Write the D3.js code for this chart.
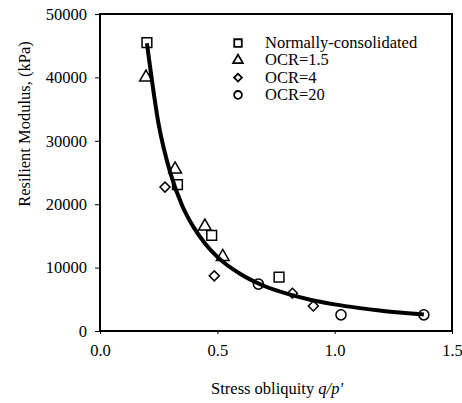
<!DOCTYPE html>
<html>
<head>
<meta charset="utf-8">
<script src="https://cdn.jsdelivr.net/npm/d3@7"></script>
<style>
  body { margin: 0; background: #fff; }
  text { font-family: "Liberation Serif", "Times New Roman", serif; fill: #000; }
</style>
</head>
<body>
<svg id="chart" width="462" height="403"></svg>
<script>
// data
var ncX = [0.20, 0.33, 0.476, 0.763]
var ncY = [45500, 23100, 15100, 8500]
var ocr15X = [0.196, 0.32, 0.447, 0.523]
var ocr15Y = [40000, 25500, 16500, 11700]
var ocr4X = [0.277, 0.487, 0.82, 0.909]
var ocr4Y = [22700, 8700, 5950, 3950]
var ocr20X = [0.675, 1.027, 1.38]
var ocr20Y = [7400, 2550, 2550]

// fitted curve, points
var fitX = [0.2, 0.25, 0.3, 0.35, 0.4, 0.45, 0.5, 0.6, 0.7, 0.8, 0.9, 1.0, 1.1, 1.2, 1.3, 1.38]
var fitY = [45400, 32600, 24900, 19800, 16300, 13700, 11700, 8950, 7100, 5850, 4900, 4200, 3650, 3200, 2850, 2600]

var xTicks = [0, 0.5, 1.0, 1.5]
var yTicks = [0, 10000, 20000, 30000, 40000, 50000]
var legendNames = ["Normally-consolidated", "OCR=1.5", "OCR=4", "OCR=20"]

var svg = d3.select("#chart")
var padding = {top: 14, right: 10, bottom: 72, left: 100}
var W = 462, H = 403
var fs = "16.5px"

var x = d3.scaleLinear().domain([0, 1.5]).range([padding.left, W - padding.right])
var y = d3.scaleLinear().domain([0, 50000]).range([H - padding.bottom, padding.top])

// frame
svg.append("rect")
    .attr("x", x(0)).attr("y", y(50000))
    .attr("width", x(1.5) - x(0)).attr("height", y(0) - y(50000))
    .attr("fill", "none").attr("stroke", "#000").attr("stroke-width", 2)

// axes
var yAxis = d3.axisLeft(y).tickValues(yTicks).tickSize(5).tickPadding(8).tickFormat(d3.format("d"))
var gy = svg.append("g").attr("transform", "translate(" + x(0) + ",0)").call(yAxis)
gy.select(".domain").remove()
gy.selectAll("text").style("font-size", fs).style("font-family", "Liberation Serif")

var xAxis = d3.axisBottom(x).tickValues(xTicks).tickSize(3).tickPadding(10).tickFormat(d3.format(".1f"))
var gx = svg.append("g").attr("transform", "translate(0," + y(0) + ")").call(xAxis)
gx.select(".domain").remove()
gx.selectAll("text").style("font-size", fs).style("font-family", "Liberation Serif")

// axis titles
svg.append("text")
    .attr("transform", "translate(30," + 124 + ") rotate(-90)")
    .attr("text-anchor", "middle")
    .style("font-size", fs)
    .text("Resilient Modulus, (kPa)")

var xt = svg.append("text")
    .attr("x", 277).attr("y", 394)
    .attr("text-anchor", "middle")
    .style("font-size", fs)
xt.append("tspan").text("Stress obliquity ")
xt.append("tspan").style("font-style", "italic").text("q/p'")

// fit curve
var line = d3.line().x(function (d) { return x(d[0]) }).y(function (d) { return y(d[1]) }).curve(d3.curveMonotoneX)
svg.append("path")
    .datum(fitX.map(function (v, i) { return [v, fitY[i]] }))
    .attr("d", line)
    .attr("fill", "none").attr("stroke", "#000").attr("stroke-width", 4)

// markers (diamond = square turned 45 degrees)
var shapes = [d3.symbolSquare, d3.symbolTriangle, d3.symbolSquare, d3.symbolCircle]
var turns = [0, 0, 45, 0]
var sizes = [95, 70, 50, 80]
var series = [[ncX, ncY], [ocr15X, ocr15Y], [ocr4X, ocr4Y], [ocr20X, ocr20Y]]

series.forEach(function (s, k) {
    var sym = d3.symbol().type(shapes[k]).size(sizes[k])
    svg.append("g").selectAll("path")
        .data(s[0].map(function (v, i) { return [v, s[1][i]] }))
        .enter().append("path")
        .attr("d", sym)
        .attr("transform", function (d) { return "translate(" + x(d[0]) + "," + y(d[1]) + ") rotate(" + turns[k] + ")" })
        .attr("fill", "none").attr("stroke", "#000").attr("stroke-width", 1.5)
})

// legend
var lg = svg.append("g").attr("transform", "translate(238,43)")
legendNames.forEach(function (name, k) {
    var sym = d3.symbol().type(shapes[k]).size(sizes[k] * 0.6)
    lg.append("path")
        .attr("d", sym)
        .attr("transform", "translate(0," + (k * 17.3) + ") rotate(" + turns[k] + ")")
        .attr("fill", "none").attr("stroke", "#000").attr("stroke-width", 1.8)
    lg.append("text")
        .attr("x", 27).attr("y", k * 17.3 + 5)
        .style("font-size", fs)
        .text(name)
})
</script>
</body>
</html>
